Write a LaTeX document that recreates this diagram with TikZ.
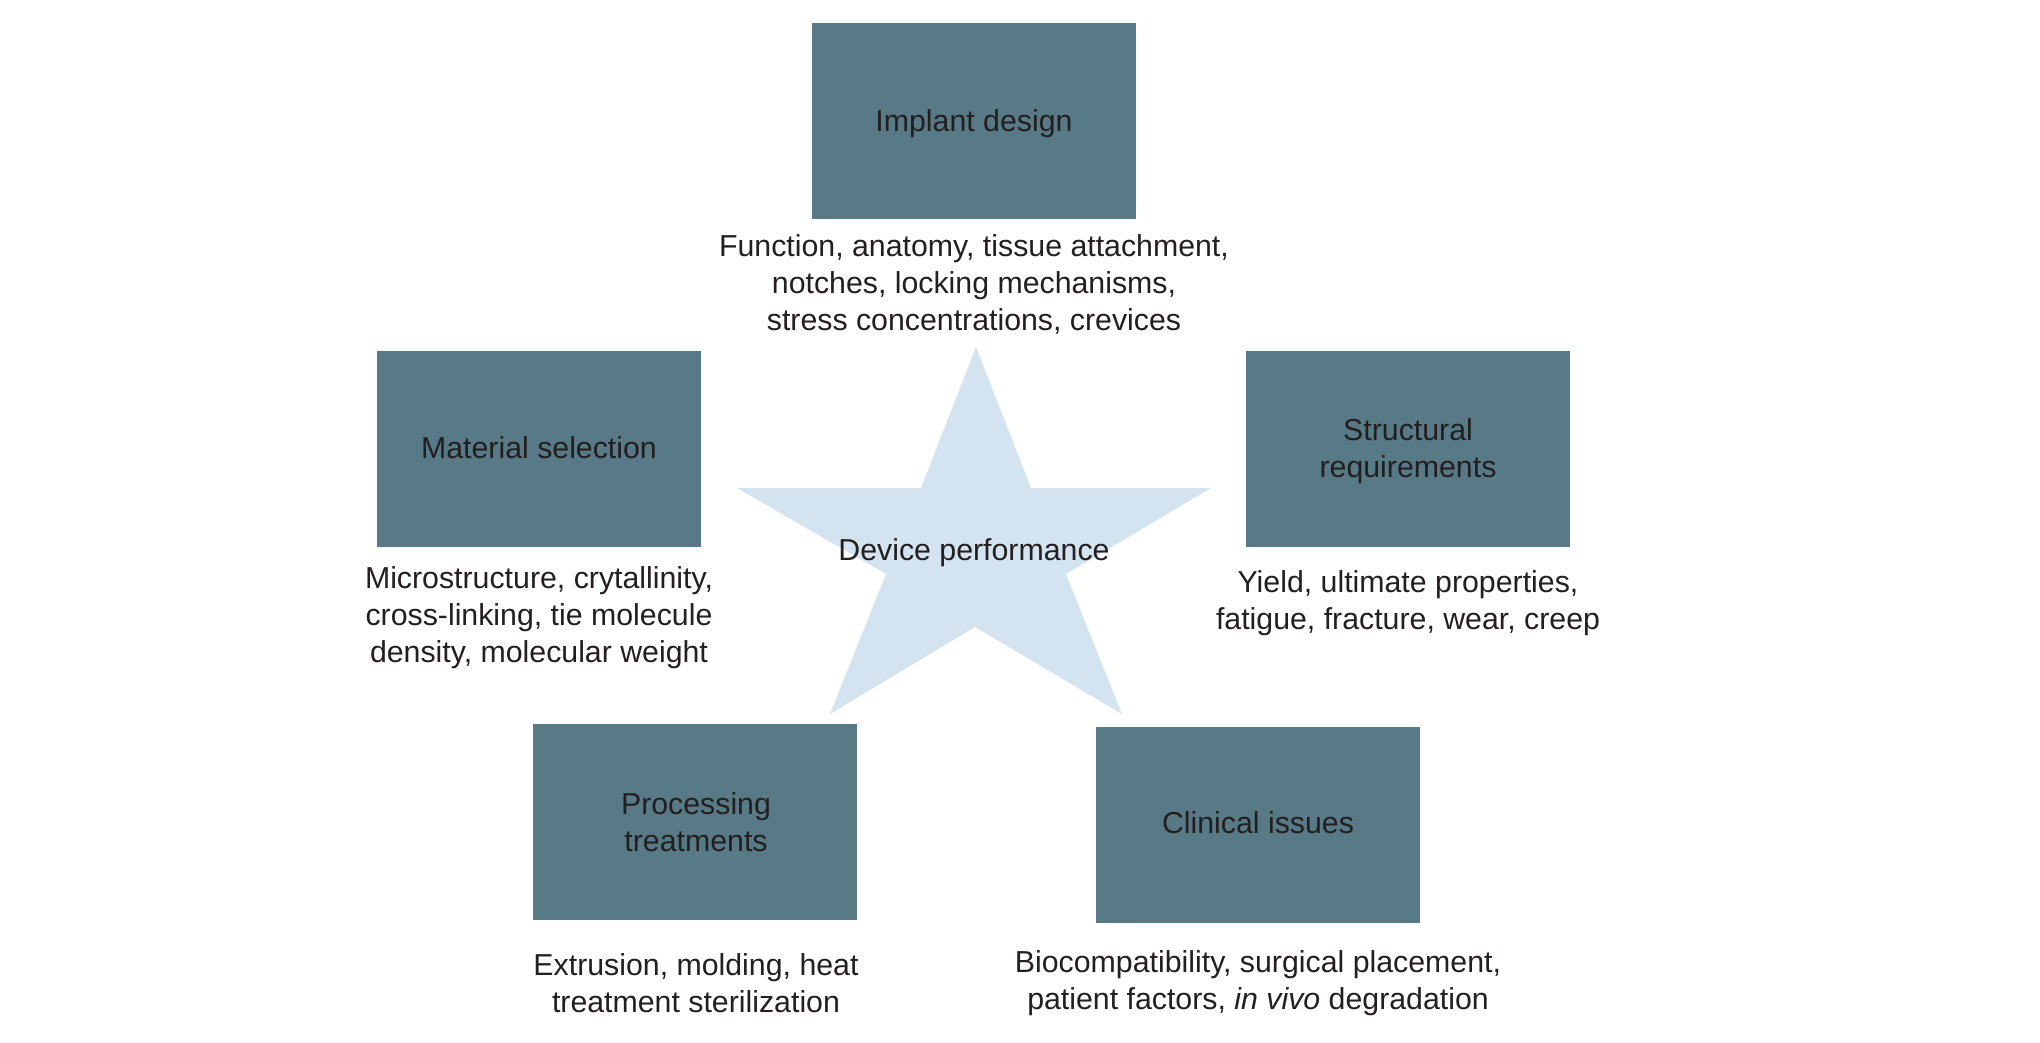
\documentclass[tikz,border=0pt]{standalone}
\usepackage{fontspec}
\setmainfont{Liberation Sans}
\definecolor{boxfill}{RGB}{88,122,134}
\definecolor{starfill}{RGB}{211,227,240}
\definecolor{txt}{RGB}{35,31,32}
\begin{document}
\begin{tikzpicture}[x=1pt,y=-1pt,
  box/.style={fill=boxfill, minimum width=324pt, minimum height=196pt, inner sep=0pt, align=center, text=txt, font=\fontsize{30.3}{37}\selectfont},
  desc/.style={align=center, inner sep=0pt, text=txt, font=\fontsize{30.3}{37}\selectfont},
  starshape/.style={fill=starfill}]
\useasboundingbox (0,0) rectangle (2040,1042);
% star
\fill[starshape] (976,347) -- (1031,488) -- (1211,488) -- (1066,574) -- (1122,714)
  -- (975,627) -- (830,714) -- (886,574) -- (737,488) -- (921,488) -- cycle;
\node[desc] (perf) at (974,553) {Device performance};
% boxes
\node[box] (implant) at (974,121) {};
\node[desc] (implantt) at (974,123.5) {Implant design};
\node[box] (material) at (539,448.5) {};
\node[desc] (materialt) at (539,448) {Material selection};
\node[box] (struct) at (1408,448.5) {};
\node[desc] (structt) at (1408,451) {Structural\\requirements};
\node[box] (proc) at (695,821.5) {};
\node[desc] (proct) at (696,822.5) {Processing\\treatments};
\node[box] (clin) at (1258,824.5) {};
\node[desc] (clint) at (1258,822.5) {Clinical issues};
% descriptions
\node[desc] (implantd) at (974,284.5) {Function, anatomy, tissue attachment,\\notches, locking mechanisms,\\stress concentrations, crevices};
\node[desc] (materiald) at (539,617.5) {Microstructure, crytallinity,\\cross-linking, tie molecule\\density, molecular weight};
\node[desc] (structd) at (1408,603) {Yield, ultimate properties,\\fatigue, fracture, wear, creep};
\node[desc] (procd) at (696,983) {Extrusion, molding, heat\\treatment sterilization};
\node[desc] (clind) at (1258,983.5) {Biocompatibility, surgical placement,\\patient factors, \textit{in vivo} degradation};
\end{tikzpicture}
\end{document}
